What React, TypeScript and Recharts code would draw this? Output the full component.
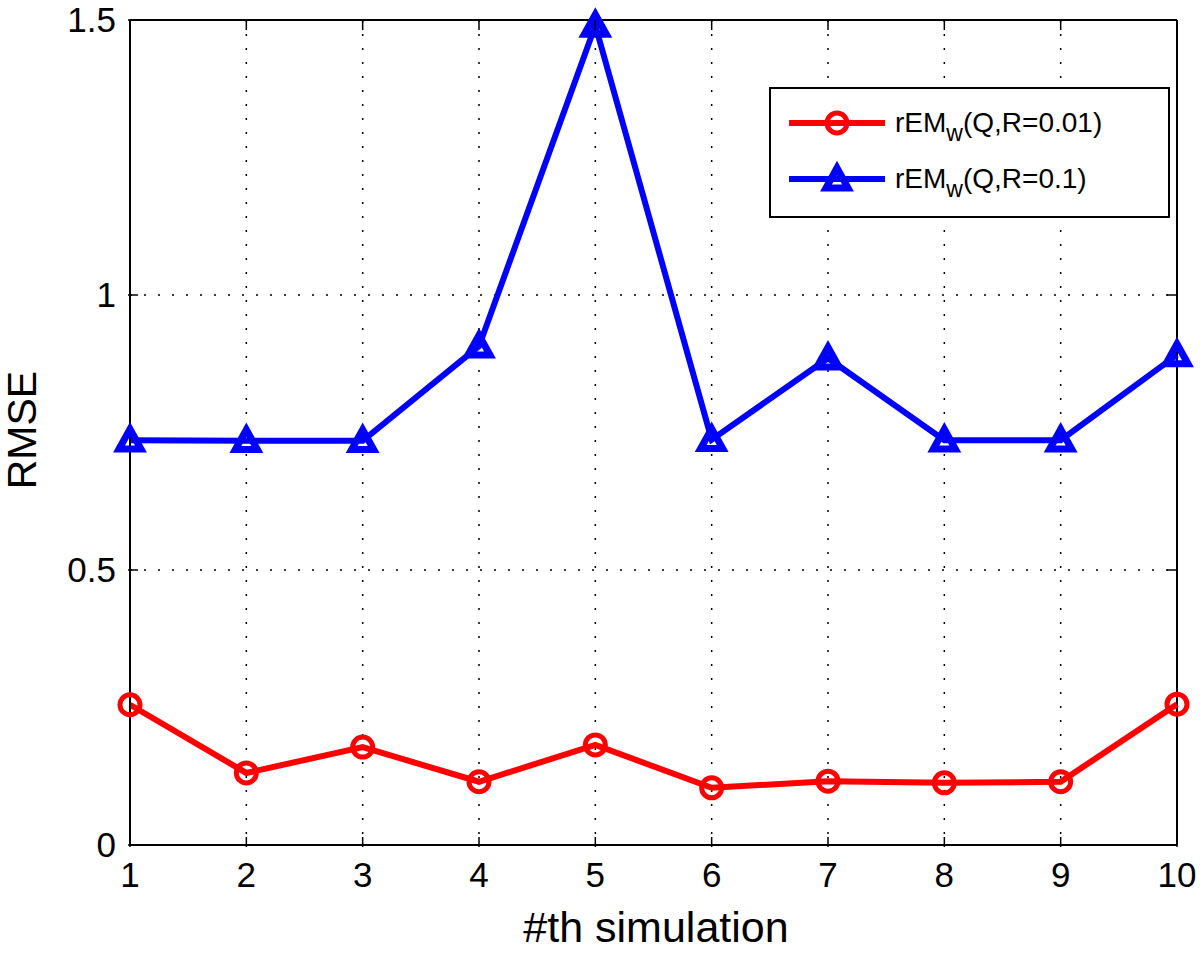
import { LineChart, Line, XAxis, YAxis, CartesianGrid, ReferenceLine } from 'recharts';

const simulations = [1, 2, 3, 4, 5, 6, 7, 8, 9, 10];
const rmseR001 = [0.255, 0.131, 0.178, 0.115, 0.182, 0.104, 0.116, 0.113, 0.115, 0.256];
const rmseR01 = [0.736, 0.735, 0.735, 0.907, 1.49, 0.737, 0.885, 0.736, 0.736, 0.891];
const xTicks = [1, 2, 3, 4, 5, 6, 7, 8, 9, 10];
const yTicks = [0, 0.5, 1, 1.5];

const data = simulations.map((s, i) => ({ sim: s, r001: rmseR001[i], r01: rmseR01[i] }));

const FONT = 'Liberation Sans, Arial, Helvetica, sans-serif';
const W = 1200;
const H = 956;
const M = { top: 20, right: 23, left: 0, bottom: 0 };
const PLOT_TOP = 20;
const PLOT_RIGHT = 1177;

const Circle = (props: any) => {
  const { cx, cy } = props;
  if (cx == null || cy == null) return null;
  return <circle cx={cx} cy={cy} r={10} fill="none" stroke="#ff0000" strokeWidth={5} />;
};

const Triangle = (props: any) => {
  const { cx, cy } = props;
  if (cx == null || cy == null) return null;
  const s = 11;
  const pts = `${cx},${cy - s} ${cx - s},${cy + s * 0.8} ${cx + s},${cy + s * 0.8}`;
  return <polygon points={pts} fill="none" stroke="#0000ff" strokeWidth={7} strokeLinejoin="miter" />;
};

// ticks point inward like matlab; mirrored on the top/right border
const XTick = (props: any) => {
  const { x, y, payload } = props;
  return (
    <g>
      <line x1={x} y1={y} x2={x} y2={y - 10} stroke="#000" strokeWidth={1.5} />
      <line x1={x} y1={PLOT_TOP} x2={x} y2={PLOT_TOP + 10} stroke="#000" strokeWidth={1.5} />
      <text x={x} y={y + 40} textAnchor="middle" style={{ fontSize: 35, fontFamily: FONT }} fill="#000">
        {payload.value}
      </text>
    </g>
  );
};

const YTick = (props: any) => {
  const { x, y, payload } = props;
  return (
    <g>
      <line x1={x} y1={y} x2={x + 10} y2={y} stroke="#000" strokeWidth={1.5} />
      <line x1={PLOT_RIGHT} y1={y} x2={PLOT_RIGHT - 10} y2={y} stroke="#000" strokeWidth={1.5} />
      <text x={x - 12} y={y + 12} textAnchor="end" style={{ fontSize: 35, fontFamily: FONT }} fill="#000">
        {payload.value}
      </text>
    </g>
  );
};

const legendItems = [
  { color: '#ff0000', marker: 'circle', label: '(Q,R=0.01)' },
  { color: '#0000ff', marker: 'triangle', label: '(Q,R=0.1)' },
];

const LegendBox = () => (
  <div
    style={{
      position: 'absolute',
      left: 769,
      top: 87,
      width: 401,
      height: 131,
      border: '2px solid #000',
      background: '#fff',
      boxSizing: 'border-box',
      fontFamily: FONT,
      fontSize: 28,
      color: '#000',
    }}
  >
    {legendItems.map((item, i) => (
      <div key={`legend-${i}`} style={{ display: 'flex', alignItems: 'center', height: 56, marginTop: i === 0 ? 6 : 0 }}>
        <svg width={114} height={40} style={{ marginLeft: 10 }}>
          <line x1={8} y1={20} x2={104} y2={20} stroke={item.color} strokeWidth={6} />
          {item.marker === 'circle' ? (
            <circle cx={56} cy={20} r={10} fill="none" stroke={item.color} strokeWidth={5} />
          ) : (
            <polygon points="56,9 45,29 67,29" fill="none" stroke={item.color} strokeWidth={7} />
          )}
        </svg>
        <span>
          rEM<sub style={{ fontSize: 23, verticalAlign: '-9px', lineHeight: 0 }}>w</sub>
          {item.label}
        </span>
      </div>
    ))}
  </div>
);

export default function App() {
  return (
    <div style={{ position: 'absolute', left: 0, top: 0, width: W, height: H, background: '#fff' }}>
      <LineChart width={W} height={H} data={data} margin={M}>
        <CartesianGrid stroke="#000" strokeDasharray="2 12" strokeWidth={1.5} />
        <XAxis
          dataKey="sim"
          type="number"
          domain={[1, 10]}
          ticks={xTicks}
          height={111}
          tickLine={false}
          tickSize={0}
          axisLine={{ stroke: '#000', strokeWidth: 2 }}
          tick={<XTick />}
        />
        <YAxis
          type="number"
          domain={[0, 1.5]}
          ticks={yTicks}
          width={130}
          tickLine={false}
          tickSize={0}
          axisLine={{ stroke: '#000', strokeWidth: 2 }}
          tick={<YTick />}
        />
        <ReferenceLine y={1.5} stroke="#000" strokeWidth={2} />
        <ReferenceLine x={10} stroke="#000" strokeWidth={2} />
        <Line
          dataKey="r001"
          stroke="#ff0000"
          strokeWidth={6}
          dot={<Circle />}
          activeDot={false}
          isAnimationActive={false}
        />
        <Line
          dataKey="r01"
          stroke="#0000ff"
          strokeWidth={6}
          dot={<Triangle />}
          activeDot={false}
          isAnimationActive={false}
        />
      </LineChart>
      <LegendBox />
      <div
        style={{
          position: 'absolute',
          left: 0,
          width: 1312,
          top: 903,
          textAlign: 'center',
          fontFamily: FONT,
          fontSize: 43,
          color: '#000',
        }}
      >
        #th simulation
      </div>
      <div
        style={{
          position: 'absolute',
          left: 22,
          top: 430,
          transform: 'translate(-50%, -50%) rotate(-90deg)',
          fontFamily: FONT,
          fontSize: 41,
          color: '#000',
          whiteSpace: 'nowrap',
        }}
      >
        RMSE
      </div>
    </div>
  );
}
